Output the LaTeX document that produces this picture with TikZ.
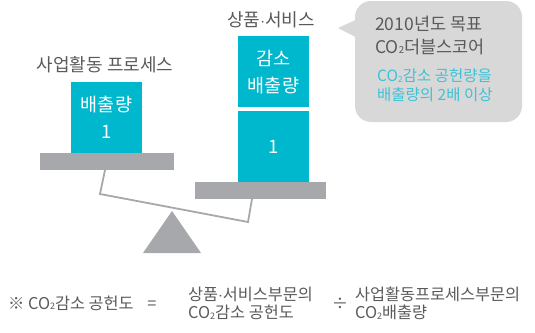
\documentclass[tikz,border=0pt]{standalone}
\usepackage{fontspec}
\setmainfont{Noto Sans CJK KR}
\definecolor{cy}{RGB}{0,184,206}
\definecolor{cytext}{RGB}{60,195,214}
\definecolor{plat}{RGB}{167,168,171}
\definecolor{bub}{RGB}{216,216,217}
\definecolor{txt}{RGB}{90,90,90}
\newcommand{\cotw}{CO\raisebox{-0.05em}{\scalebox{0.55}{2}}}
\tikzset{
  boxc/.style={fill=cy, draw=none, inner sep=0},
  platbox/.style={fill=plat, draw=none, inner sep=0},
  lbl/.style={text=txt, inner sep=0, font=\fontsize{18}{20}\selectfont},
  wt/.style={text=white, inner sep=0, font=\fontsize{18.5}{20}\selectfont},
  bt/.style={text=txt, inner sep=0, font=\fontsize{17.5}{20}\selectfont, anchor=base west},
  ct/.style={text=cytext, inner sep=0, font=\fontsize{15.5}{18}\selectfont, anchor=base west},
  ft/.style={text=txt, inner sep=0, font=\fontsize{16.3}{18}\selectfont},
}
\begin{document}
\begin{tikzpicture}[x=1pt,y=-1pt]
\useasboundingbox (0,0) rectangle (535,332);
% bubble
\fill[bub, rounded corners=16pt] (355,1) rectangle (522,122);
\fill[bub] (355.5,20) -- (338,28) -- (355.5,37) -- cycle;
\node[bt] (b1) at (375,30) {2010년도 목표};
\node[bt] (b2) at (375,53) {\cotw 더블스코어};
\node[ct] (b3) at (377,81.5) {\cotw 감소 공헌량을};
\node[ct] (b4) at (377,100) {배출량의 2배 이상};
% left side
\path[boxc] (71,82) rectangle (142,153.5);
\node[platbox, minimum width=134pt, minimum height=17pt, anchor=north west] (lp) at (40,153) {};
\node[lbl, anchor=base] (ll) at (105,71.5) {사업활동 프로세스};
\node[wt, anchor=base] (lt1) at (106.5,111) {배출량};
\node[wt, anchor=base] (lt2) at (106.5,138) {1};
% right side
\path[boxc] (238,36) rectangle (309,107);
\path[boxc] (238,111) rectangle (309,182.5);
\node[platbox, minimum width=131pt, minimum height=17pt, anchor=north west] (rp) at (195,182) {};
\node[lbl, anchor=base] (rl) at (271,26.5) {상품$\cdot$서비스};
\node[wt, anchor=base] (rt1) at (273.5,65) {감소};
\node[wt, anchor=base] (rt2) at (273.5,92.5) {배출량};
\node[wt, anchor=base] (rt3) at (273.5,153) {1};
% beam
\coordinate (l0) at (105,170);
\coordinate (l1) at (100,194);
\coordinate (r1) at (248,222);
\coordinate (r0) at (252,199);
\draw[plat, line width=1.8pt, line join=miter] (l0) -- (l1) -- (r1) -- (r0);
\fill[plat] (172,211) -- (143,253) -- (201,253) -- cycle;
% formula
\node[ft, anchor=base west] (f1) at (8,309) {※ \cotw 감소 공헌도};
\node[ft, anchor=base] (f2) at (152,309) {=};
\node[ft, anchor=base west] (f3) at (188,300.5) {상품$\cdot$서비스부문의};
\node[ft, anchor=base west] (f4) at (188,318.5) {\cotw 감소 공헌도};
\node[ft, anchor=base] (f5) at (340,309) {÷};
\node[ft, anchor=base west] (f6) at (355,300.5) {사업활동프로세스부문의};
\node[ft, anchor=base west] (f7) at (355,318.5) {\cotw 배출량};
\end{tikzpicture}
\end{document}
